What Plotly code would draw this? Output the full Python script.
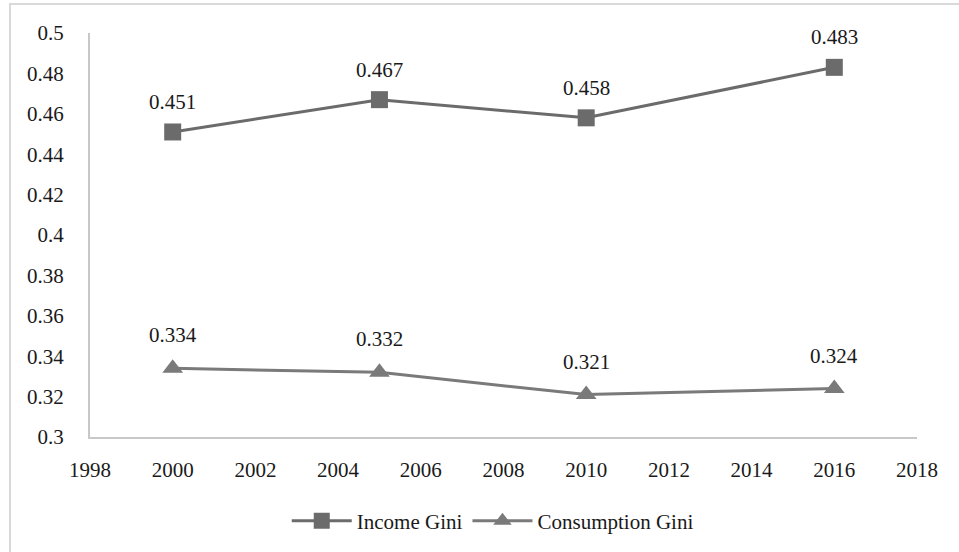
import plotly.graph_objects as go

years = [2000, 2005, 2010, 2016]
income_gini = [0.451, 0.467, 0.458, 0.483]
consumption_gini = [0.334, 0.332, 0.321, 0.324]
y_ticks = [0.3, 0.32, 0.34, 0.36, 0.38, 0.4, 0.42, 0.44, 0.46, 0.48, 0.5]
y_tick_text = ["0.3", "0.32", "0.34", "0.36", "0.38", "0.4", "0.42", "0.44", "0.46", "0.48", "0.5"]
x_ticks = list(range(1998, 2019, 2))

FONT = "Liberation Serif, Times New Roman, serif"
fs = 21

fig = go.Figure()
fig.add_trace(go.Scatter(
    x=years, y=income_gini, name="Income Gini", mode="lines+markers",
    line=dict(color="#6b6b6b", width=3),
    marker=dict(symbol="square", size=17, color="#6b6b6b"),
))
fig.add_trace(go.Scatter(
    x=years, y=consumption_gini, name="Consumption Gini", mode="lines+markers",
    line=dict(color="#7a7a7a", width=3),
    marker=dict(symbol="triangle-up", size=18, color="#7a7a7a"),
))

annotations = []
for xs, ys, shift in [(years, income_gini, 30), (years, consumption_gini, 33)]:
    for xv, yv in zip(xs, ys):
        annotations.append(dict(
            x=xv, y=yv, text=f"{yv:.3f}", showarrow=False, yshift=shift,
            font=dict(family=FONT, size=fs, color="#1a1a1a"),
        ))

# outer chart border (cut off at right and bottom)
pl, pr, pt, pb = 90, 917, 33, 438
pw, ph = pr - pl, pb - pt
shapes = [dict(
    type="rect", xref="paper", yref="paper",
    x0=(10 - pl) / pw, x1=(965 - pl) / pw,
    y0=(pb - 560) / ph, y1=(pb - 4) / ph,
    line=dict(color="#d9d9d9", width=2), fillcolor="rgba(0,0,0,0)", layer="below",
)]

fig.update_layout(
    width=959, height=552,
    margin=dict(l=pl, r=959 - pr, t=pt, b=552 - pb),
    paper_bgcolor="white", plot_bgcolor="white",
    font=dict(family=FONT, size=fs, color="#1a1a1a"),
    showlegend=True,
    legend=dict(orientation="h", x=0.487, xanchor="center", y=-0.205, yanchor="middle",
                font=dict(family=FONT, size=fs, color="#1a1a1a"), itemwidth=60,
                tracegroupgap=0),
    annotations=annotations,
    shapes=shapes,
    xaxis=dict(range=[1998, 2018], tickvals=x_ticks, showgrid=False, zeroline=False,
               showline=True, linecolor="#c8c8c8", linewidth=2, ticks="",
               ticklabelstandoff=13, tickfont=dict(family=FONT, size=fs, color="#1a1a1a")),
    yaxis=dict(range=[0.3, 0.5], tickvals=y_ticks, ticktext=y_tick_text, showgrid=False,
               zeroline=False, showline=True, linecolor="#c8c8c8", linewidth=2, ticks="",
               ticklabelstandoff=20, tickfont=dict(family=FONT, size=fs, color="#1a1a1a")),
)

fig.write_html("out.html")
